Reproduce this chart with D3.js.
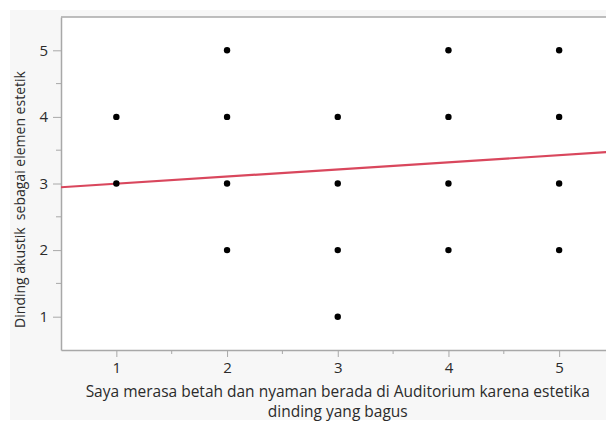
<!DOCTYPE html>
<html>
<head>
<meta charset="utf-8">
<script src="https://cdn.jsdelivr.net/npm/d3@7"></script>
<style>
  html, body { margin: 0; padding: 0; background: #ffffff; overflow: hidden; }
  svg { display: block; }
  text { font-family: "Open Sans", "Noto Sans", sans-serif; fill: #2b2b2b; white-space: pre; }
</style>
</head>
<body>
<svg id="chart" width="606" height="421"></svg>
<script>
// Survey responses (Likert 1-5)
const xValues = [1, 1, 2, 2, 2, 2, 3, 3, 3, 3, 4, 4, 4, 4, 5, 5, 5, 5];
const yValues = [3, 4, 2, 3, 4, 5, 1, 2, 3, 4, 2, 3, 4, 5, 2, 3, 4, 5];
const xTicks = [1, 2, 3, 4, 5];
const yTicks = [1, 2, 3, 4, 5];
// Linear fit: y = intercept + slope * x
const fitIntercept = 2.89;
const fitSlope = 0.107;
const xTitle = ["Saya merasa betah dan nyaman berada di Auditorium karena estetika", "dinding yang bagus"];
const yTitle = "Dinding akustik  sebagai elemen estetik";

const svg = d3.select("#chart");
const plot = { left: 61, top: 17, right: 614.5, bottom: 350 };

// grey frame behind everything
svg.append("rect").attr("x", 10).attr("y", 10).attr("width", 600).attr("height", 410).attr("fill", "#f7f7f7");

const x = d3.scaleLinear().domain([0.5, 5.5]).range([plot.left, plot.right]);
const y = d3.scaleLinear().domain([0.5, 5.5]).range([plot.bottom, plot.top]);

svg.append("rect")
  .attr("x", plot.left).attr("y", plot.top)
  .attr("width", plot.right - plot.left).attr("height", plot.bottom - plot.top)
  .attr("fill", "#ffffff");

svg.append("defs").append("clipPath").attr("id", "clip")
  .append("rect").attr("x", plot.left).attr("y", plot.top)
  .attr("width", plot.right - plot.left).attr("height", plot.bottom - plot.top);

const axisColor = "#a8a8a8";
const minorTicks = [1.5, 2.5, 3.5, 4.5];

// x axis
const gx = svg.append("g").attr("transform", `translate(0,${plot.bottom})`)
  .call(d3.axisBottom(x).tickValues(xTicks).tickFormat(d3.format("d")).tickSize(7).tickPadding(5).tickSizeOuter(0));
gx.append("g").selectAll("line").data(minorTicks).join("line")
  .attr("x1", d => x(d)).attr("x2", d => x(d)).attr("y1", 0).attr("y2", 4)
  .attr("stroke", axisColor);

// y axis
const gy = svg.append("g").attr("transform", `translate(${plot.left},0)`)
  .call(d3.axisLeft(y).tickValues(yTicks).tickFormat(d3.format("d")).tickSize(8).tickPadding(5).tickSizeOuter(0));
gy.append("g").selectAll("line").data(minorTicks).join("line")
  .attr("y1", d => y(d)).attr("y2", d => y(d)).attr("x1", 0).attr("x2", -5)
  .attr("stroke", axisColor);

[gx, gy].forEach(g => {
  g.select(".domain").attr("stroke", axisColor).attr("stroke-width", 1.5);
  g.selectAll(".tick line").attr("stroke", axisColor);
  g.selectAll(".tick text").attr("fill", "#2b2b2b").style("font-size", "15px")
    .style("font-family", "'Open Sans', 'Noto Sans', sans-serif");
});

// top border of the plot
svg.append("line")
  .attr("x1", plot.left).attr("x2", plot.right).attr("y1", plot.top).attr("y2", plot.top)
  .attr("stroke", axisColor).attr("stroke-width", 1.5);

// fit line
const fitX = x.domain();
svg.append("line")
  .attr("clip-path", "url(#clip)")
  .attr("x1", x(fitX[0])).attr("y1", y(fitIntercept + fitSlope * fitX[0]))
  .attr("x2", x(fitX[1])).attr("y2", y(fitIntercept + fitSlope * fitX[1]))
  .attr("stroke", "#d9475d").attr("stroke-width", 2.2);

// points
svg.append("g").selectAll("circle").data(xValues.map((v, i) => [v, yValues[i]])).join("circle")
  .attr("cx", d => x(d[0])).attr("cy", d => y(d[1])).attr("r", 3.2).attr("fill", "#000000");

// axis titles
svg.append("text").attr("x", x(3)).attr("y", 397)
  .attr("text-anchor", "middle").style("font-size", "15.5px").text(xTitle[0]);
svg.append("text").attr("x", x(3)).attr("y", 417)
  .attr("text-anchor", "middle").style("font-size", "15.5px").text(xTitle[1]);
svg.append("text")
  .attr("transform", `translate(25,${(plot.top + plot.bottom) / 2 + 16}) rotate(-90)`)
  .attr("text-anchor", "middle").style("font-size", "14px").text(yTitle);
</script>
</body>
</html>
